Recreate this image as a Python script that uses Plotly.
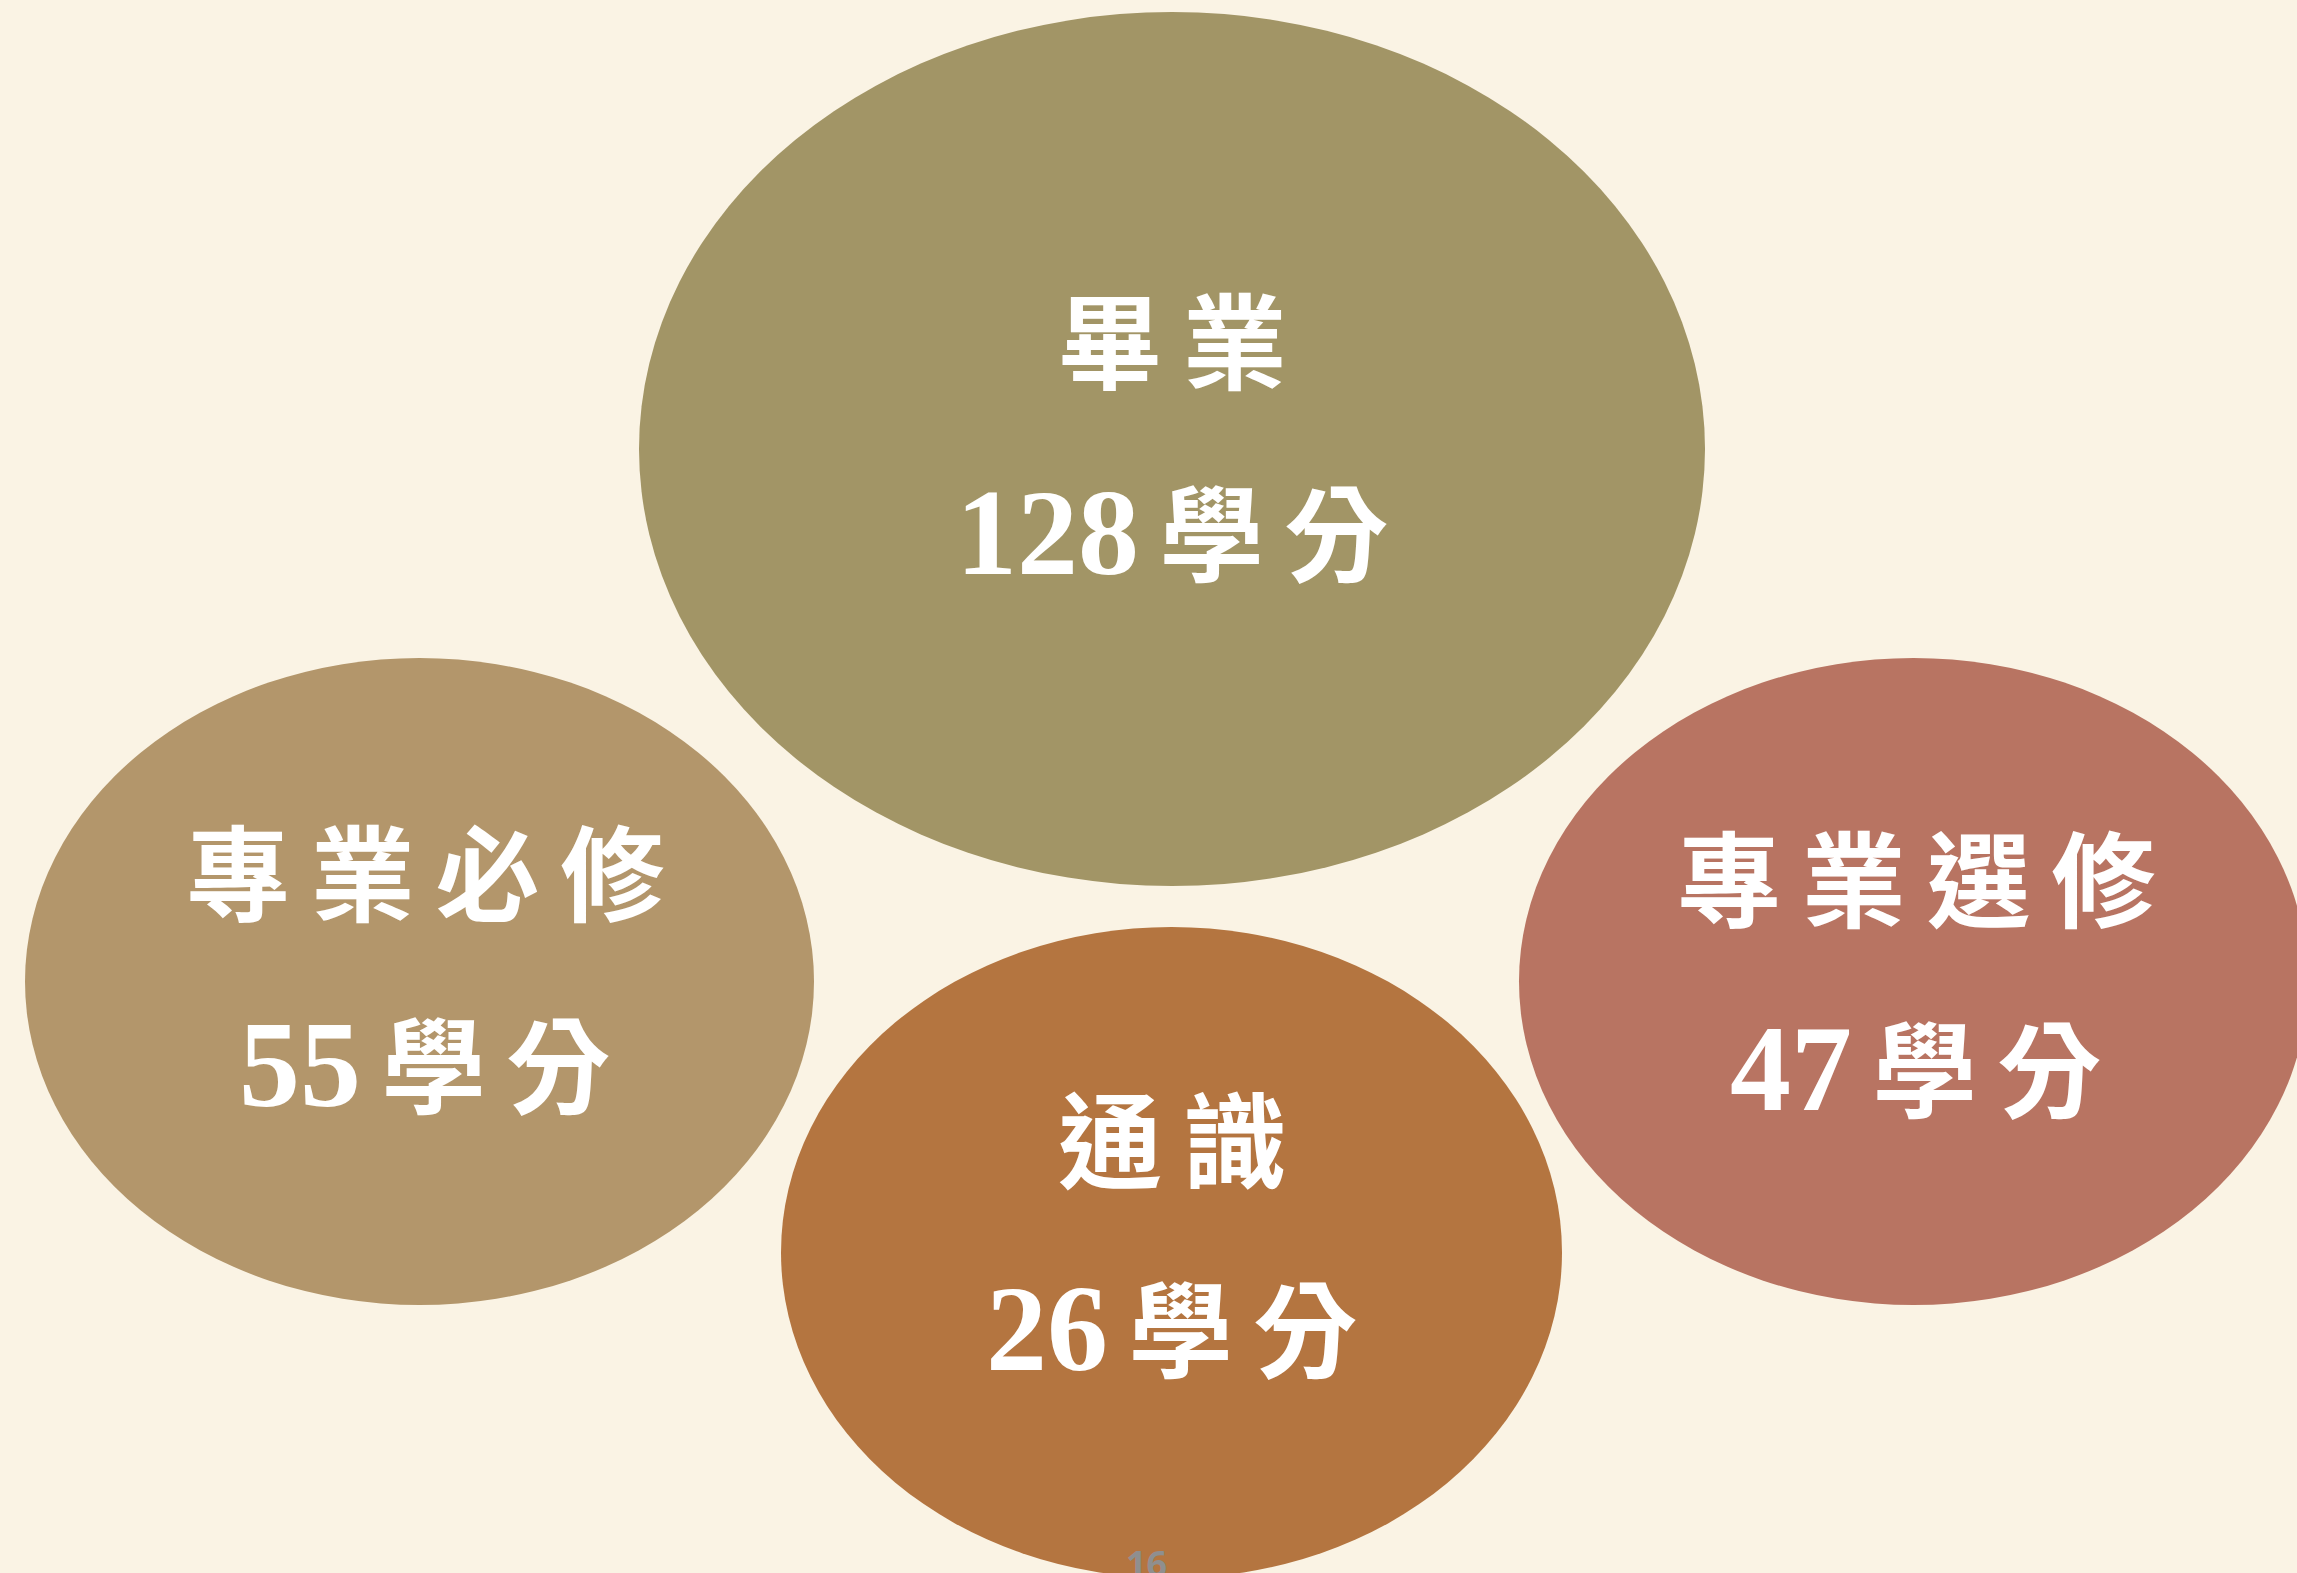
import plotly.graph_objects as go

# Data
categories = ["畢業", "專業必修", "通識", "專業選修"]
credits = [128, 55, 26, 47]
unit = "學分"
colors = ["#A29566", "#B3966B", "#B47540", "#B87462"]
page_number = "16"

# Layout (pixel coordinates of the 2297x1573 canvas)
W, H = 2297, 1573
ellipses = [  # x0, y0, x1, y1
    (639, 12, 1705, 886),
    (25, 658, 814, 1305),
    (781, 927, 1562, 1578),
    (1519, 658, 2308, 1305),
]
label_pos = [  # x, y line1, y line2
    (1172, 336, 528),
    (425, 868, 1060),
    (1172, 1135, 1324),
    (1916, 874, 1064),
]

SP = "\u2009"

fig = go.Figure()

for (x0, y0, x1, y1), c in zip(ellipses, colors):
    fig.add_shape(type="circle", xref="x", yref="y", x0=x0, x1=x1, y0=y0, y1=y1,
                  fillcolor=c, line=dict(width=0), layer="above")

for cat, val, (x, ya, yb) in zip(categories, credits, label_pos):
    fig.add_annotation(x=x, y=ya, text=SP.join(cat), showarrow=False, xref="x", yref="y",
                       xanchor="center", yanchor="middle",
                       font=dict(family="Noto Sans CJK TC", size=104, color="white", weight="bold"))
    line2 = (f'<span style="font-family:Liberation Serif;font-size:122px">{val}</span>'
             + SP + SP.join(unit))
    fig.add_annotation(x=x, y=yb, text=line2, showarrow=False, xref="x", yref="y",
                       xanchor="center", yanchor="middle",
                       font=dict(family="Noto Sans CJK TC", size=104, color="white", weight="bold"))

# page number at the bottom edge
fig.add_annotation(x=1146, y=1537, text=page_number, showarrow=False, xref="x", yref="y",
                   xanchor="center", yanchor="top",
                   font=dict(family="Open Sans", size=36, color="#8F8F8F", weight="bold"))

fig.update_layout(
    width=W, height=H, autosize=False,
    margin=dict(l=0, r=0, t=0, b=0),
    paper_bgcolor="#FAF3E4", plot_bgcolor="#FAF3E4",
    xaxis=dict(range=[0, W], visible=False, fixedrange=True),
    yaxis=dict(range=[H, 0], visible=False, fixedrange=True),
    showlegend=False,
)

fig.write_html("out.html", config={"displayModeBar": False},
               post_script="document.body.style.margin='0';document.body.style.background='#FAF3E4';")
